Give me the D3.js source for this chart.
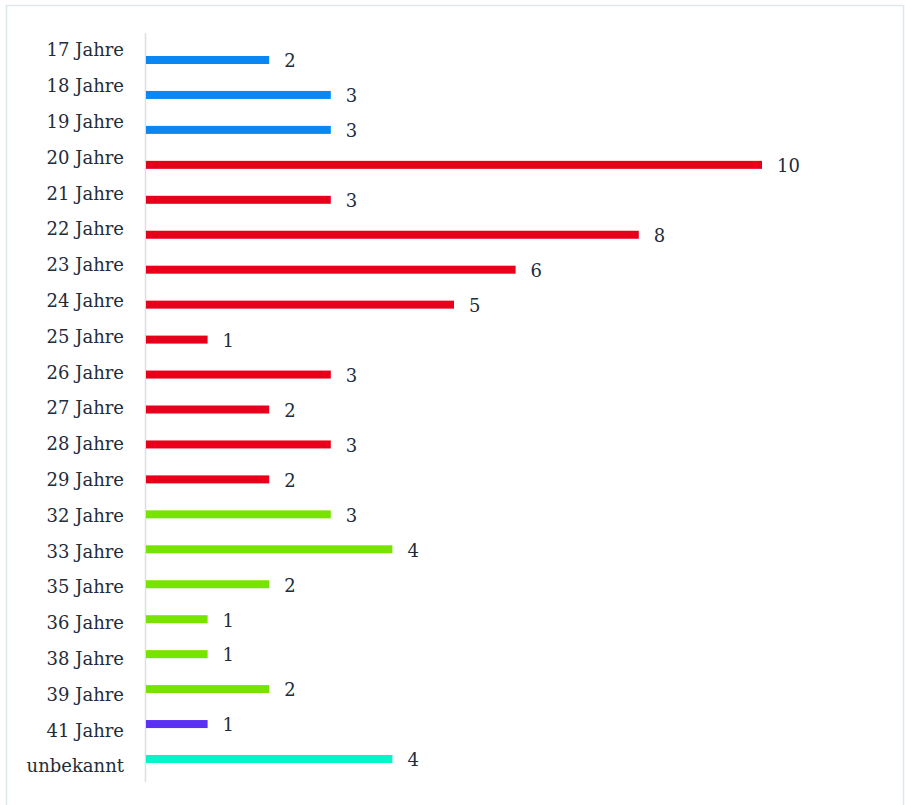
<!DOCTYPE html>
<html>
<head>
<meta charset="utf-8">
<script src="https://cdn.jsdelivr.net/npm/d3@7"></script>
<style>
  body { margin: 0; background: #fff; }
  text { font-family: "DejaVu Serif", serif; fill: #222c3a; }
</style>
</head>
<body>
<div id="chart"></div>
<script>
// data
var categories = ["17 Jahre","18 Jahre","19 Jahre","20 Jahre","21 Jahre","22 Jahre","23 Jahre",
  "24 Jahre","25 Jahre","26 Jahre","27 Jahre","28 Jahre","29 Jahre","32 Jahre","33 Jahre",
  "35 Jahre","36 Jahre","38 Jahre","39 Jahre","41 Jahre","unbekannt"];
var counts = [2,3,3,10,3,8,6,5,1,3,2,3,2,3,4,2,1,1,2,1,4];
var groups = ["teen","teen","teen","20s","20s","20s","20s","20s","20s","20s","20s","20s","20s",
  "30s","30s","30s","30s","30s","30s","40s","unk"];

var width = 905, height = 805;

var svg = d3.select("#chart").append("svg")
    .attr("width", width)
    .attr("height", height);

// frame
svg.append("rect")
    .attr("x", 6.5).attr("y", 5.5)
    .attr("width", 897).attr("height", 820)
    .attr("fill", "none")
    .attr("stroke", "#dfe7eb")
    .attr("stroke-width", 1.5);

var x = d3.scaleLinear().domain([0, 10]).range([146, 762]);

// bars and labels sit on slightly different grids
var yBar = d3.scalePoint().domain(categories).range([60, 759]);
var yLab = d3.scalePoint().domain(categories).range([50, 766]);

var color = d3.scaleOrdinal()
    .domain(["teen","20s","30s","40s","unk"])
    .range(["#0a87f2","#e8001b","#78e300","#5a30f2","#05f5c9"]);

var data = categories.map(function(c, i) {
  return {name: c, value: counts[i], group: groups[i]};
});

// axis line
svg.append("line")
    .attr("x1", 145.5).attr("x2", 145.5)
    .attr("y1", 33).attr("y2", 782)
    .attr("stroke", "#d6e0e6")
    .attr("stroke-width", 1.5);

svg.selectAll(".bar")
    .data(data)
  .enter().append("rect")
    .attr("class", "bar")
    .attr("x", x(0))
    .attr("y", function(d) { return yBar(d.name) - 4; })
    .attr("width", function(d) { return x(d.value) - x(0); })
    .attr("height", 8)
    .attr("fill", function(d) { return color(d.group); });

svg.selectAll(".cat")
    .data(data)
  .enter().append("text")
    .attr("class", "cat")
    .attr("x", 124)
    .attr("y", function(d) { return yLab(d.name); })
    .attr("dy", "0.35em")
    .attr("text-anchor", "end")
    .style("font-size", "18px")
    .text(function(d) { return d.name; });

svg.selectAll(".val")
    .data(data)
  .enter().append("text")
    .attr("class", "val")
    .attr("x", function(d) { return x(d.value) + 15; })
    .attr("y", function(d) { return yBar(d.name) + 1; })
    .attr("dy", "0.35em")
    .style("font-size", "18px")
    .text(function(d) { return d.value; });
</script>
</body>
</html>
